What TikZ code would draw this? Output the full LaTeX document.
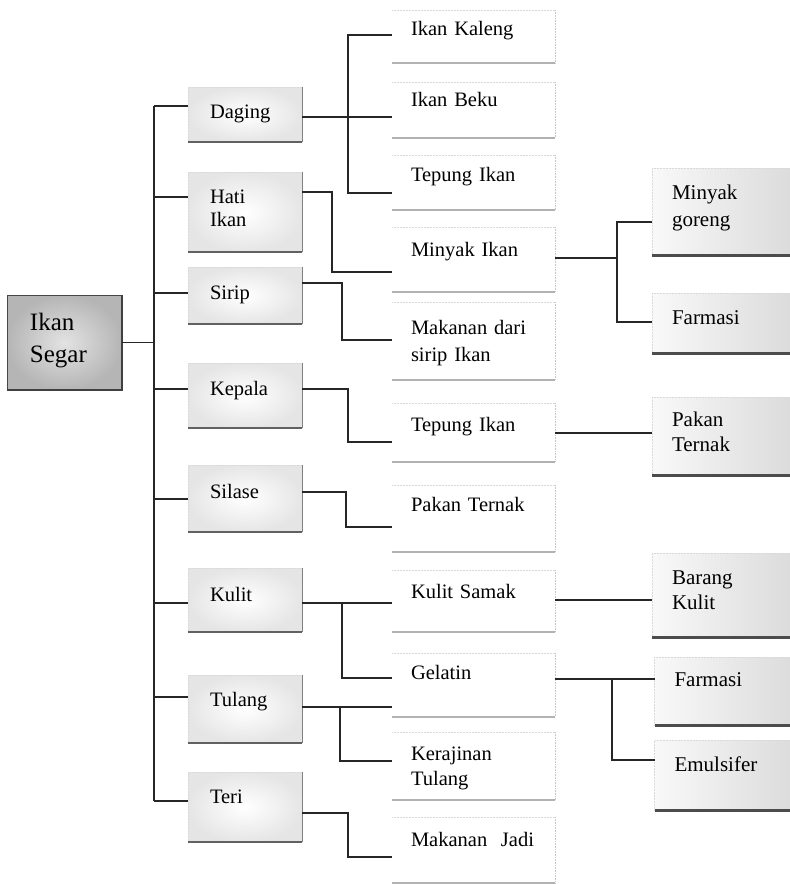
\documentclass[tikz,border=0pt]{standalone}
\usepackage{fontspec}
\setmainfont{Liberation Serif}
\begin{document}
\begin{tikzpicture}[x=1pt,y=-1pt,
  conn/.style={line width=1.5pt, draw=black!85},
  boxbase/.style={inner ysep=0pt, outer sep=0pt, align=left, text height=14pt},
  l0/.style={boxbase, text width=69pt, inner xsep=23pt, text height=17pt,
    font=\fontsize{25}{32}\selectfont, inner color=gray!22, outer color=gray!58},
  l1/.style={boxbase, text width=70pt, inner xsep=22pt,
    font=\fontsize{20.5}{23}\selectfont, inner color=white, outer color=gray!20},
  l2/.style={boxbase, text width=125pt, inner xsep=19pt,
    font=\fontsize{20.5}{25}\selectfont, fill=white},
  l3/.style={boxbase, text width=100pt, inner xsep=20pt, text height=14.3pt,
    font=\fontsize{21}{25}\selectfont, left color=gray!5, right color=gray!28},
  botA/.style={line width=2.4pt, draw=black!62},
  botB/.style={line width=1.8pt, draw=gray!60},
  botC/.style={line width=3pt, draw=black!70},
  sideA/.style={line width=0.9pt, draw=black!50},
  sideB/.style={line width=0.6pt, draw=gray!45, densely dotted},
  faint/.style={line width=0.5pt, draw=gray!30, densely dotted},
]
\useasboundingbox (0,0) rectangle (790,884);

% level 0
\node[l0, text depth=42pt, minimum height=95pt] (seg) at (64.5,342.5) {Ikan\\Segar};

% level 1
\node[l1, text depth=5.6pt,  minimum height=55pt] (dag) at (245,114.5) {Daging};
\node[l1, text depth=30.6pt, minimum height=80pt] (hat) at (245,212) {Hati\\Ikan};
\node[l1, text depth=5.6pt,  minimum height=57pt] (sir) at (245,295.5) {Sirip};
\node[l1, text depth=13.6pt, minimum height=65pt] (kep) at (245,395.5) {Kepala};
\node[l1, text depth=13.6pt, minimum height=67pt] (sil) at (245,498.5) {Silase};
\node[l1, text depth=10.6pt, minimum height=64pt] (kul) at (245,600) {Kulit};
\node[l1, text depth=18.6pt, minimum height=68pt] (tul) at (245,709) {Tulang};
\node[l1, text depth=20.6pt, minimum height=70pt] (ter) at (245,807) {Teri};

% level 2
\node[l2, text depth=15.6pt, minimum height=53pt] (ikk) at (473.5,36.5) {Ikan Kaleng};
\node[l2, text depth=20.6pt, minimum height=56pt] (ikb) at (473.5,110) {Ikan Beku};
\node[l2, text depth=15.6pt, minimum height=55pt] (tep1) at (473.5,182.5) {Tepung Ikan};
\node[l2, text depth=19.6pt, minimum height=65pt] (miny) at (473.5,259.5) {Minyak Ikan};
\node[l2, text depth=27.6pt, minimum height=78pt, font=\fontsize{20.5}{27}\selectfont] (mak) at (473.5,341) {Makanan dari\\sirip Ikan};
\node[l2, text depth=15.6pt, minimum height=59pt] (tep2) at (473.5,432.5) {Tepung Ikan};
\node[l2, text depth=27.6pt, minimum height=67pt] (pak) at (473.5,518.5) {Pakan Ternak};
\node[l2, text depth=18.6pt, minimum height=62pt] (kls) at (473.5,601) {Kulit Samak};
\node[l2, text depth=24.6pt, minimum height=64pt] (gel) at (473.5,685) {Gelatin};
\node[l2, text depth=25.6pt, minimum height=68pt] (ker) at (473.5,766) {Kerajinan\\Tulang};
\node[l2, text depth=20.6pt, minimum height=66pt] (mkj) at (473.5,850) {Makanan~~Jadi};

% level 3
\node[l3, text depth=38pt, minimum height=87pt, font=\fontsize{21}{27}\selectfont] (mgo) at (722,211.5) {Minyak\\goreng};
\node[l3, text depth=11pt, minimum height=60pt] (far1) at (722,323) {Farmasi};
\node[l3, text depth=33pt, minimum height=78pt] (pkt) at (722,436) {Pakan\\Ternak};
\node[l3, text depth=35pt, minimum height=84pt] (brk) at (722,595) {Barang\\Kulit};
\node[l3, text depth=23pt, minimum height=68pt] (far2) at (724.5,691) {Farmasi};
\node[l3, text depth=21pt, minimum height=70pt] (emu) at (724.5,775) {Emulsifer};

% box edges
\draw[line width=0.7pt, draw=gray!55!black] (seg.south west) rectangle (seg.north east);
\draw[line width=2pt, draw=black!75] (seg.south west) -- (seg.south east) -- (seg.north east);
\foreach \n in {dag,hat,sir,kep,sil,kul,tul,ter} {
  \draw[faint] (\n.south west) -- (\n.north west) -- (\n.north east);
  \draw[sideA] (\n.north east) -- (\n.south east);
  \draw[botA] (\n.south west) -- (\n.south east);
}
\foreach \n in {ikk,ikb,tep1,miny,mak,tep2,pak,kls,gel,ker,mkj} {
  \draw[faint] (\n.north west) -- (\n.north east);
  \draw[sideB] (\n.north east) -- (\n.south east);
  \draw[botB] (\n.south west) -- (\n.south east);
}
\foreach \n in {mgo,far1,pkt,brk,far2,emu} {
  \draw[faint] (\n.south west) -- (\n.north west) -- (\n.north east);
  \draw[botC] (\n.south west) -- (\n.south east);
}

% trunk
\coordinate (tt) at (154,106);
\coordinate (tb) at (154,801);
\draw[conn] (tt) -- (tb);
\draw[conn] (seg.east) -- (seg.east -| tt);
\foreach \n/\y in {dag/106,hat/197,sir/293,kep/389,sil/499,kul/603,tul/697,ter/801}
  \draw[conn] (tt |- 0,\y) -- (\n.west |- 0,\y);

% level 1 -> level 2
\draw[conn] (dag.east |- 0,117) -- (ikb.west |- 0,117);
\draw[conn] (ikk.west |- 0,35) -- (348,35) -- (348,193) -- (tep1.west |- 0,193);
\draw[conn] (hat.east |- 0,192) -- (332,192) -- (332,272) -- (miny.west |- 0,272);
\draw[conn] (sir.east |- 0,283) -- (342,283) -- (342,340) -- (mak.west |- 0,340);
\draw[conn] (kep.east |- 0,389) -- (348,389) -- (348,442) -- (tep2.west |- 0,442);
\draw[conn] (sil.east |- 0,492) -- (346,492) -- (346,527) -- (pak.west |- 0,527);
\draw[conn] (kul.east |- 0,603) -- (kls.west |- 0,603);
\draw[conn] (342,603) -- (342,678) -- (gel.west |- 0,678);
\draw[conn] (tul.east |- 0,707) -- (gel.west |- 0,707);
\draw[conn] (340,707) -- (340,761) -- (ker.west |- 0,761);
\draw[conn] (ter.east |- 0,813) -- (348,813) -- (348,857) -- (mkj.west |- 0,857);

% level 2 -> level 3
\draw[conn] (miny.east |- 0,258) -- (617,258);
\draw[conn] (mgo.west |- 0,222) -- (617,222) -- (617,322) -- (far1.west |- 0,322);
\draw[conn] (tep2.east |- 0,433) -- (pkt.west |- 0,433);
\draw[conn] (kls.east |- 0,600) -- (brk.west |- 0,600);
\draw[conn] (gel.east |- 0,679) -- (far2.west |- 0,679);
\draw[conn] (612,679) -- (612,760) -- (emu.west |- 0,760);
\end{tikzpicture}
\end{document}
